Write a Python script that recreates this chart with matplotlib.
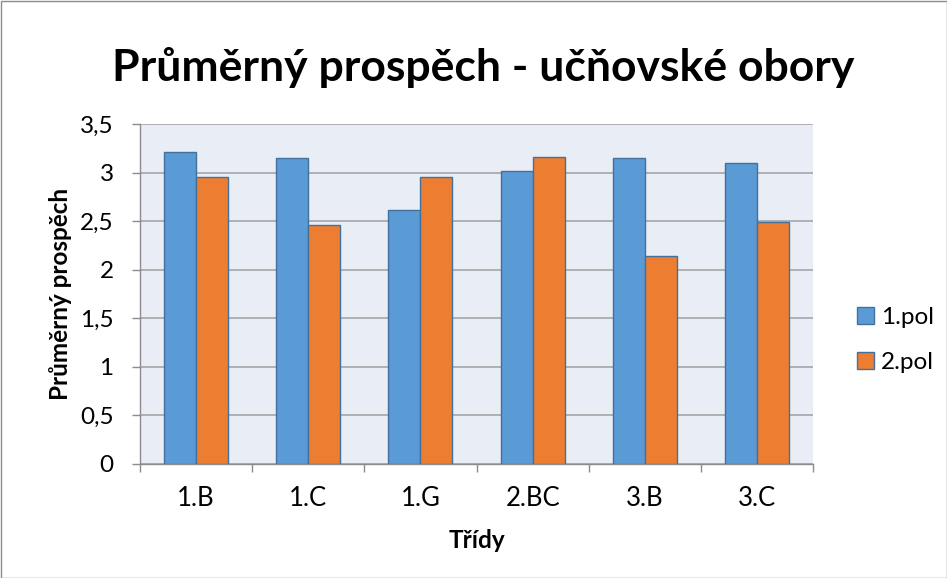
import matplotlib
matplotlib.use("Agg")
import matplotlib.pyplot as plt
import numpy as np
from matplotlib.patches import Rectangle

categories = ["1.B", "1.C", "1.G", "2.BC", "3.B", "3.C"]
pol1 = [3.21, 3.15, 2.61, 3.02, 3.15, 3.10]
pol2 = [2.95, 2.46, 2.95, 3.16, 2.14, 2.49]
series_names = ["1.pol", "2.pol"]
yticks = [0, 0.5, 1, 1.5, 2, 2.5, 3, 3.5]
ytick_labels = ["0", "0,5", "1", "1,5", "2", "2,5", "3", "3,5"]

plt.rcParams['font.family'] = ['Lato', 'DejaVu Sans']

W, H = 947, 578
fig = plt.figure(figsize=(W/100, H/100), dpi=100)
fig.patch.set_facecolor('white')
fig.add_artist(Rectangle((0.5/W, 0.5/H), 1 - 1/W, 1 - 1/H, transform=fig.transFigure,
                         fill=False, edgecolor='#8c8c8c', linewidth=1))

left, right, top, bottom = 140, 813, 124, 464
ax = fig.add_axes([left/W, 1 - bottom/H, (right-left)/W, (bottom-top)/H])
ax.set_facecolor('#E9EDF6')

x = np.arange(len(categories))
bw = 1/3.5
blue = '#5B9BD5'
orange = '#ED7D31'
ax.bar(x - bw/2, pol1, width=bw, color=blue, edgecolor='#41719C', linewidth=1, label=series_names[0], zorder=3)
ax.bar(x + bw/2, pol2, width=bw, color=orange, edgecolor='#41719C', linewidth=1, label=series_names[1], zorder=3)

ax.set_xlim(-0.5, len(categories) - 0.5)
ax.set_ylim(0, 3.5)
ax.set_yticks(yticks)
ax.set_yticklabels(ytick_labels)
ax.yaxis.grid(True, color='#a6a6a6', linewidth=1.2, zorder=0)
ax.set_axisbelow(True)

ax.set_xticks(x)
ax.set_xticklabels(categories)
ax.set_xticks(np.arange(-0.5, len(categories)), minor=True)
ax.tick_params(axis='x', which='major', length=0, pad=16, labelsize=18.5)
ax.tick_params(axis='x', which='minor', length=6, color='#8c8c8c', width=1)
ax.tick_params(axis='y', length=6, color='#8c8c8c', width=1, pad=13, labelsize=17.5)

for s in ['top', 'right']:
    ax.spines[s].set_visible(False)
for s in ['left', 'bottom']:
    ax.spines[s].set_color('#8c8c8c')
    ax.spines[s].set_linewidth(1)

ax.set_ylabel("Průměrný prospěch", fontsize=17.5, fontweight='bold')
ax.yaxis.set_label_coords((61 - left) / (right - left), 0.5)
ax.yaxis.label.set_va('center')
ax.set_xlabel("Třídy", fontsize=17.5, fontweight='bold')
ax.xaxis.set_label_coords(0.5, -(540 - bottom) / (bottom - top))
ax.xaxis.label.set_va('center')

fig.text(483/W, 1 - 68/H, "Průměrný prospěch - učňovské obory", fontsize=32,
         fontweight='bold', ha='center', va='center')

leg = fig.legend(loc='center left', bbox_to_anchor=(835/W, 1 - 340/H), frameon=False,
                 fontsize=17.5, handlelength=0.7, handleheight=0.7, labelspacing=0.95,
                 handletextpad=0.3)

fig.savefig("out.png", dpi=100)
